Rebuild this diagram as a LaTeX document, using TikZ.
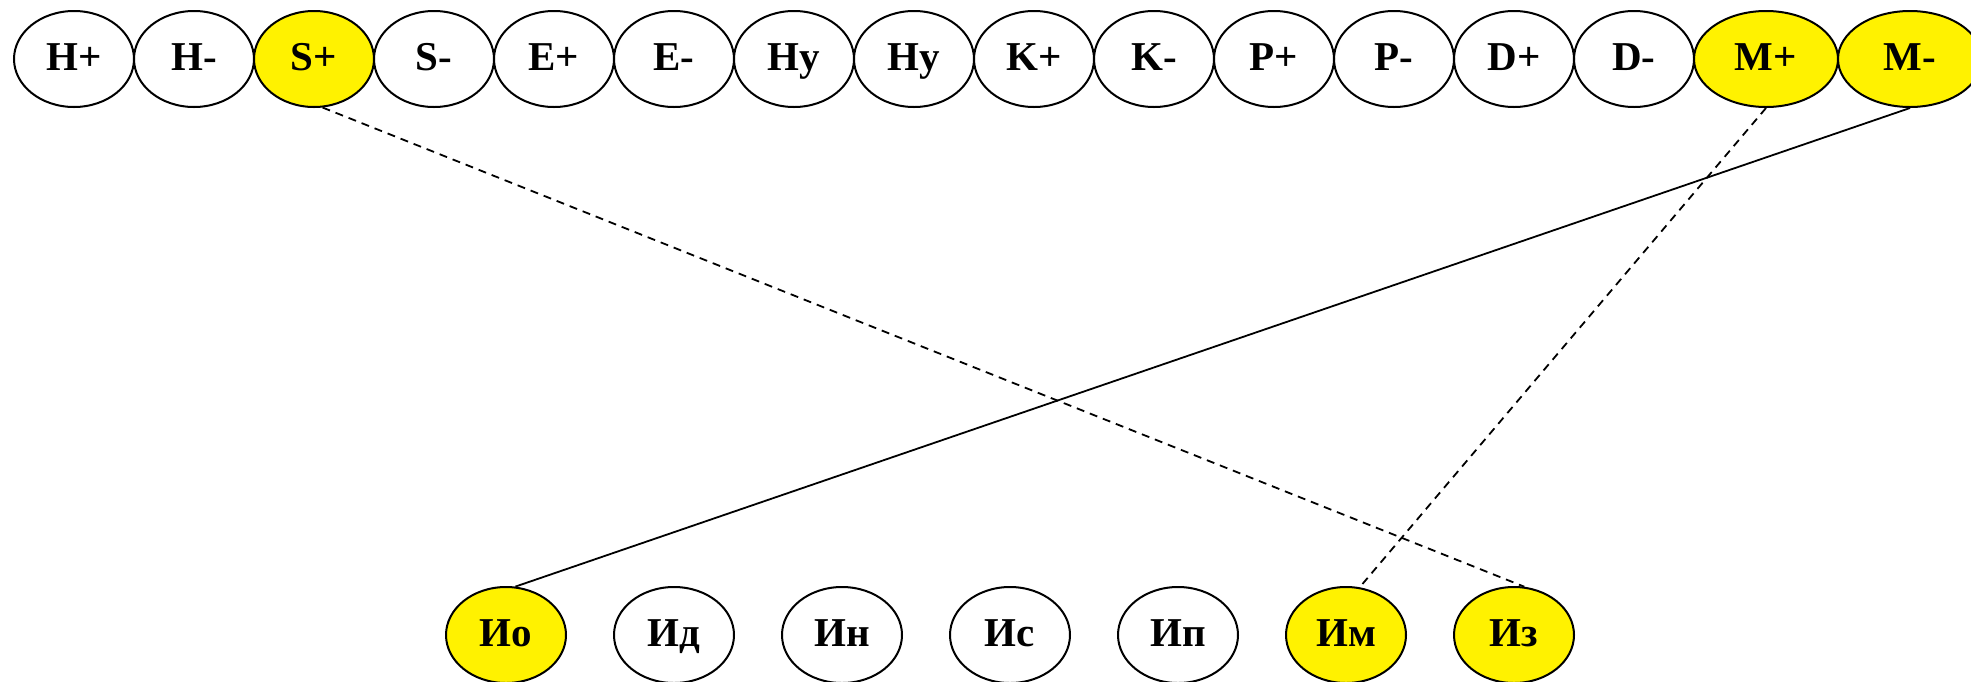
\documentclass[tikz,border=0pt]{standalone}
\usepackage{fontspec}
\setmainfont{Liberation Serif}
\usetikzlibrary{shapes.geometric}

\begin{document}
\begin{tikzpicture}[x=1pt, y=-1pt,
    oval/.style={draw, line width=2pt, ellipse, minimum width=120pt, minimum height=96pt,
        inner sep=0pt, text height=30pt, text depth=8pt, font=\fontsize{41}{41}\selectfont\bfseries},
    wide/.style={oval, minimum width=144pt},
    hit/.style={fill=yellow},
    link/.style={line width=1.8pt},
    maybe/.style={link, dash pattern=on 8pt off 6pt}]
    \useasboundingbox (0, 0) rectangle (1971, 681);

    \node[oval] (Hp) at (74, 59) {H+};
    \node[oval] (Hm) at (194, 59) {H-};
    \node[oval, hit] (Sp) at (314, 59) {S+};
    \node[oval] (Sm) at (434, 59) {S-};
    \node[oval] (Ep) at (554, 59) {E+};
    \node[oval] (Em) at (674, 59) {E-};
    \node[oval] (Hya) at (794, 59) {Hy};
    \node[oval] (Hyb) at (914, 59) {Hy};
    \node[oval] (Kp) at (1034, 59) {K+};
    \node[oval] (Km) at (1154, 59) {K-};
    \node[oval] (Pp) at (1274, 59) {P+};
    \node[oval] (Pm) at (1394, 59) {P-};
    \node[oval] (Dp) at (1514, 59) {D+};
    \node[oval] (Dm) at (1634, 59) {D-};
    \node[wide, hit] (Mp) at (1766, 59) {M+};
    \node[wide, hit] (Mm) at (1910, 59) {M-};

    \node[oval, hit] (Io) at (506, 635) {Ио};
    \node[oval] (Id) at (674, 635) {Ид};
    \node[oval] (In) at (842, 635) {Ин};
    \node[oval] (Is) at (1010, 635) {Ис};
    \node[oval] (Ip) at (1178, 635) {Ип};
    \node[oval, hit] (Im) at (1346, 635) {Им};
    \node[oval, hit] (Iz) at (1514, 635) {Из};

    \draw[maybe] (Sp.-80) -- (Iz.78);
    \draw[maybe] (Mp.south) -- (Im.74);
    \draw[link] (Mm.south) -- (Io.79);
\end{tikzpicture}
\end{document}
